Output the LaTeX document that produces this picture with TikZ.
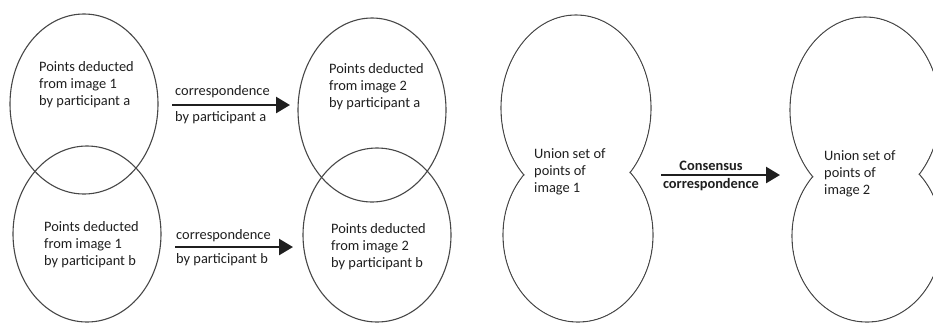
\documentclass[tikz,border=0pt]{standalone}
\usepackage{fontspec}
\setmainfont{Carlito}
\usetikzlibrary{shapes.geometric,arrows.meta}
\begin{document}
\begin{tikzpicture}[x=1bp,y=-1bp,
  setline/.style={draw=black!72,line width=1.1bp},
  setnode/.style={setline,ellipse,inner sep=0pt,minimum width=148bp,minimum height=#1},
  lbl/.style={inner sep=0pt,align=left,anchor=west,text=black!88,font=\fontsize{14.4bp}{17bp}\selectfont},
  albl/.style={inner sep=0pt,text=black!88,font=\fontsize{14.4bp}{17bp}\selectfont},
  corr/.style={-{Triangle[length=14bp,width=16bp]},line width=2.5bp,black!88}]
\useasboundingbox[fill=white] (0,0) rectangle (933,324);

% participant sets
\node[setnode=180bp] (A1) at (84,104) {};
\node[setnode=176bp] (B1) at (87,234) {};
\node[setnode=184bp] (A2) at (372,110) {};
\node[setnode=174bp] (B2) at (377,235) {};

\node[lbl] (tA1) at (39,85) {Points deducted\\from image 1\\by participant a};
\node[lbl] (tB1) at (44,245) {Points deducted\\from image 1\\by participant b};
\node[lbl] (tA2) at (329,87) {Points deducted\\from image 2\\by participant a};
\node[lbl] (tB2) at (331,247) {Points deducted\\from image 2\\by participant b};

% correspondence arrows
\coordinate (ca1) at (172,105);
\coordinate (ca2) at (290,105);
\coordinate (cb1) at (175,247);
\coordinate (cb2) at (293,247);
\draw[corr] (ca1) -- (ca2);
\draw[corr] (cb1) -- (cb2);
\node[albl,anchor=west] (la1) at (175,92) {correspondence};
\node[albl,anchor=west] (la2) at (175,118) {by participant a};
\node[albl,anchor=west] (lb1) at (176,236) {correspondence};
\node[albl,anchor=west] (lb2) at (176,260) {by participant b};

% union sets
\draw[setline] (576,108) ellipse [x radius=75, y radius=93];
\draw[setline] (578,235) ellipse [x radius=75, y radius=87];
\draw[setline] (865,110) ellipse [x radius=75, y radius=93];
\draw[setline] (867,236) ellipse [x radius=75, y radius=86];
\fill[white] (576,108) ellipse [x radius=74.2, y radius=92.2];
\fill[white] (578,235) ellipse [x radius=74.2, y radius=86.2];
\fill[white] (865,110) ellipse [x radius=74.2, y radius=92.2];
\fill[white] (867,236) ellipse [x radius=74.2, y radius=85.2];

\node[lbl] (tU1) at (534,172) {Union set of\\points of\\image 1};
\node[lbl] (tU2) at (824,174) {Union set of\\points of\\image 2};

% consensus arrow
\coordinate (cc1) at (661,175);
\coordinate (cc2) at (780,175);
\draw[corr] (cc1) -- (cc2);
\node[albl,font=\fontsize{14.4bp}{17bp}\selectfont\bfseries] (lc1) at (711,166) {Consensus};
\node[albl,font=\fontsize{14.4bp}{17bp}\selectfont\bfseries] (lc2) at (711,185) {correspondence};
\end{tikzpicture}
\end{document}
